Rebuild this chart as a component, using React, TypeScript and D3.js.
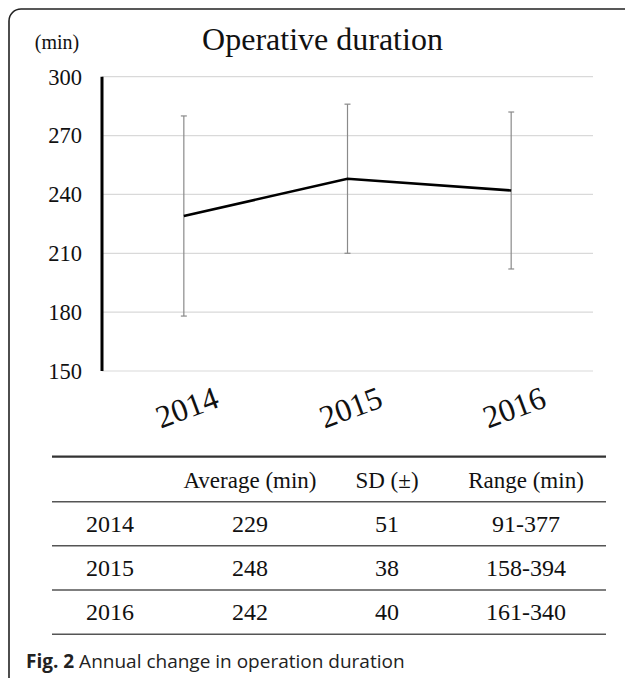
import React from "react";
import * as d3 from "d3";

const years = ["2014", "2015", "2016"];
const averages = [229, 248, 242];
const sds = [51, 38, 40];
const ranges = ["91-377", "158-394", "161-340"];
const yTicks = [150, 180, 210, 240, 270, 300];
const tableHeaders = ["", "Average (min)", "SD (\u00B1)", "Range (min)"];

const W = 625;
const H = 678;
const serif = "'Liberation Serif', 'Times New Roman', serif";

export default function App() {
  const x = d3.scalePoint<string>().domain(years).range([102, 593]).padding(0.5);
  const y = d3.scaleLinear().domain([150, 300]).range([371, 76.7]);
  const line = d3
    .line<number>()
    .x((_, i) => x(years[i]) as number)
    .y((d) => y(d));

  const colX = [86, 250, 387, 526];
  const rowLines = [456.7, 501.7, 545.7, 590, 634.3];
  const rowCenters = [480, 524, 568, 612];

  return (
    <svg
      width={W}
      height={H}
      style={{ position: "absolute", left: 0, top: 0, background: "#fff" }}
    >
      <rect x={0} y={0} width={W} height={H} fill="#fff" />
      <rect x={9} y={9} width={680} height={720} rx={12} fill="none" stroke="#222" strokeWidth={1.6} />

      <text x={57} y={49} fontFamily={serif} fontSize={20} textAnchor="middle" fill="#111">(min)</text>
      <text x={322.5} y={50} fontFamily={serif} fontSize={32} textAnchor="middle" fill="#111">Operative duration</text>

      {yTicks.map((t) => (
        <g key={t}>
          <line x1={102} x2={593} y1={y(t)} y2={y(t)} stroke="#d9d9d9" strokeWidth={1.2} />
          <text x={82} y={y(t)} dy="0.35em" fontFamily={serif} fontSize={22.5} textAnchor="end" fill="#111">{t}</text>
        </g>
      ))}
      <line x1={102} x2={102} y1={y(300)} y2={y(150)} stroke="#000" strokeWidth={3} />

      {years.map((yr, i) => {
        const cx = x(yr) as number;
        const top = y(averages[i] + sds[i]);
        const bot = y(averages[i] - sds[i]);
        return (
          <g key={yr}>
            <line x1={cx} x2={cx} y1={top} y2={bot} stroke="#8a8a8a" strokeWidth={1.2} />
            <line x1={cx - 3} x2={cx + 3} y1={top} y2={top} stroke="#8a8a8a" strokeWidth={1.2} />
            <line x1={cx - 3} x2={cx + 3} y1={bot} y2={bot} stroke="#8a8a8a" strokeWidth={1.2} />
          </g>
        );
      })}
      <path d={line(averages) || ""} fill="none" stroke="#000" strokeWidth={2.6} />

      {years.map((yr) => (
        <text
          key={yr}
          transform={`translate(${(x(yr) as number) + 3},407) rotate(-20.5)`}
          fontFamily={serif}
          fontSize={32}
          textAnchor="middle"
          dy="0.35em"
          fill="#111"
        >
          {yr}
        </text>
      ))}

      {rowLines.map((ly, i) => (
        <line key={i} x1={52} x2={606} y1={ly} y2={ly} stroke={i === 0 ? "#333" : "#555"} strokeWidth={i === 0 ? 2.2 : 1.5} />
      ))}
      {tableHeaders.map((h, j) =>
        h ? (
          <text key={h} x={colX[j]} y={rowCenters[0]} dy="0.35em" fontFamily={serif} fontSize={23} textAnchor="middle" fill="#111">{h}</text>
        ) : null
      )}
      {years.map((yr, i) => (
        <g key={yr} fontFamily={serif} fontSize={24} fill="#111">
          <text x={colX[0]} y={rowCenters[i + 1]} dy="0.35em" textAnchor="start">{yr}</text>
          <text x={colX[1]} y={rowCenters[i + 1]} dy="0.35em" textAnchor="middle">{averages[i]}</text>
          <text x={colX[2]} y={rowCenters[i + 1]} dy="0.35em" textAnchor="middle">{sds[i]}</text>
          <text x={colX[3]} y={rowCenters[i + 1]} dy="0.35em" textAnchor="middle">{ranges[i]}</text>
        </g>
      ))}

      <text x={26} y={668} fontFamily="'Open Sans', sans-serif" fontSize={19} fill="#222">
        <tspan fontWeight="bold">Fig. 2</tspan>
        <tspan> Annual change in operation duration</tspan>
      </text>
    </svg>
  );
}
